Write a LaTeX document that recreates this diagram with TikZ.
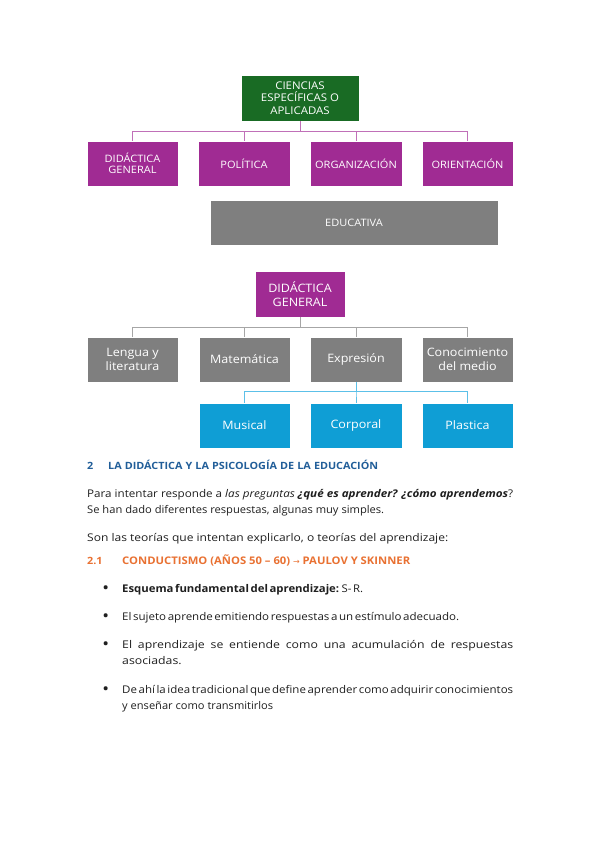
\documentclass[tikz,border=0pt]{standalone}
\usepackage{graphicx}
\usepackage{fontspec}
\setmainfont{Open Sans}[FakeStretch=1.08]
\newfontfamily\bodyfont{Open Sans}[FakeStretch=1.16]
\newfontfamily\symfont{DejaVu Sans}
\usetikzlibrary{calc}
\newsavebox\linebox
\newcommand\fitto[2]{\sbox\linebox{#2}\ifdim\wd\linebox>#1\relax\resizebox{#1}{\height}{\usebox\linebox}\else\makebox[#1][s]{#2}\fi}
\newskip\tightskip
\newcommand\tightsp{\tightskip=1.7pt plus 3pt minus 0.5pt\relax\spaceskip=\tightskip}
\definecolor{cgreen}{HTML}{196B24}
\definecolor{cpurple}{HTML}{A02B93}
\definecolor{cgray}{HTML}{7F7F7F}
\definecolor{cblue}{HTML}{0F9ED5}
\definecolor{chead}{HTML}{215E99}
\definecolor{corange}{HTML}{E97132}
\definecolor{ctext}{HTML}{1F1F1F}
\definecolor{plink}{HTML}{C070B8}
\definecolor{glink}{HTML}{A6A6A6}
\definecolor{blink}{HTML}{5CC0E8}
\tikzset{
  box/.style={draw=white, line width=0.6pt, text=white, align=center, inner sep=1pt, minimum height=45pt},
  capbox/.style={box, font=\fontsize{10.2}{11.5}\selectfont},
  bigbox/.style={box, font=\fontsize{11.6}{14.5}\selectfont},
  plinkst/.style={draw=plink, line width=0.9pt},
  glinkst/.style={draw=glink, line width=0.9pt},
  blinkst/.style={draw=blink, line width=0.9pt},
  txt/.style={anchor=base west, inner sep=0pt, text=ctext, font=\bodyfont\fontsize{10.6}{12}\selectfont},
  headst/.style={txt, font=\bfseries\fontsize{10}{12}\selectfont},
  bulst/.style={txt, font=\bfseries\fontsize{13}{12}\selectfont},
}
\begin{document}
\begin{tikzpicture}[x=1pt,y=-1pt]
\useasboundingbox[fill=white] (0,0) rectangle (599,848);
% --- first tree
\node[capbox, fill=cgreen, minimum width=118pt, minimum height=46pt, font=\fontsize{10.6}{12.5}\selectfont] (cea) at (300,98) {CIENCIAS\\ESPECÍFICAS O\\APLICADAS};
\node[capbox, fill=cpurple, minimum width=91pt] (dg1) at (132.5,163.5) {DIDÁCTICA\\GENERAL};
\node[capbox, fill=cpurple, minimum width=92pt] (pol) at (244,163.5) {POLÍTICA};
\node[capbox, fill=cpurple, minimum width=92pt] (org) at (356,163.5) {ORGANIZACIÓN};
\node[capbox, fill=cpurple, minimum width=91pt] (ori) at (467.5,163.5) {ORIENTACIÓN};
\foreach \c in {dg1,pol,org,ori}{\draw[plinkst] (cea.south) -- ++(0,10) -| (\c.north);}
\node[capbox, fill=cgray, minimum width=288pt] (edu) at (354,222.5) {EDUCATIVA};
% --- second tree
\node[bigbox, fill=cpurple, minimum width=90pt, minimum height=46pt] (dg2) at (300,294) {DIDÁCTICA\\GENERAL};
\node[bigbox, fill=cgray, minimum width=91pt] (len) at (132.5,359.5) {Lengua y\\literatura};
\node[bigbox, fill=cgray, minimum width=91pt] (mat) at (244.5,359.5) {Matemática};
\node[bigbox, fill=cgray, minimum width=92pt] (exp) at (356,359.5) {Expresión};
\node[bigbox, fill=cgray, minimum width=91pt] (con) at (467.5,359.5) {Conocimiento\\del medio};
\foreach \c in {len,mat,exp,con}{\draw[glinkst] (dg2.south) -- ++(0,10) -| (\c.north);}
\node[bigbox, fill=cblue, minimum width=91pt] (mus) at (244.5,425.5) {Musical};
\node[bigbox, fill=cblue, minimum width=92pt] (cor) at (356,425.5) {Corporal};
\node[bigbox, fill=cblue, minimum width=91pt] (pla) at (467.5,425.5) {Plastica};
\foreach \c in {mus,cor,pla}{\draw[blinkst] (exp.south) -- ++(0,9) -| (\c.north);}
% --- text
\node[headst, text=chead] (h2n) at (87,469) {2};
\node[headst, text=chead] (h2) at (108,469) {\fitto{270pt}{LA DIDÁCTICA Y LA PSICOLOGÍA DE LA EDUCACIÓN}};
\node[txt] (p1) at (87,497) {\fitto{426pt}{Para intentar responde a \textit{las preguntas} \textbf{\textit{¿qué es aprender? ¿cómo aprendemos}}?}};
\node[txt] (p2) at (87,513) {\fitto{297pt}{Se han dado diferentes respuestas, algunas muy simples.}};
\node[txt] (p3) at (87,541) {\fitto{361pt}{Son las teorías que intentan explicarlo, o teorías del aprendizaje:}};
\node[headst, text=corange] (h21n) at (87,564) {2.1};
\node[headst, text=corange, font=\bfseries\fontsize{10.5}{12}\selectfont] (h21) at (122,564) {\fitto{288pt}{CONDUCTISMO (AÑOS 50 – 60) {\symfont\mdseries\fontsize{8}{8}\selectfont →} PAULOV Y SKINNER}};
\foreach \y/\n in {592/b1,620/b2,648/b3,693/b4}{\node[bulst] (\n) at (103,\y) {•};}
\node[txt] (l1) at (122,592) {\tightsp\fitto{241pt}{\textbf{Esquema fundamental del aprendizaje:} S- R.}};
\node[txt] (l2) at (122,620) {\tightsp\fitto{337pt}{El sujeto aprende emitiendo respuestas a un estímulo adecuado.}};
\node[txt] (l3) at (122,648) {\fitto{391pt}{El aprendizaje se entiende como una acumulación de respuestas}};
\node[txt] (l3b) at (122,664) {\fitto{95pt}{asociadas.}};
\node[txt] (l4) at (122,693) {\tightsp\fitto{391pt}{De ahí la idea tradicional que define aprender como adquirir conocimientos}};
\node[txt] (l4b) at (122,709) {\fitto{151pt}{y enseñar como transmitirlos}};
\end{tikzpicture}
\end{document}
